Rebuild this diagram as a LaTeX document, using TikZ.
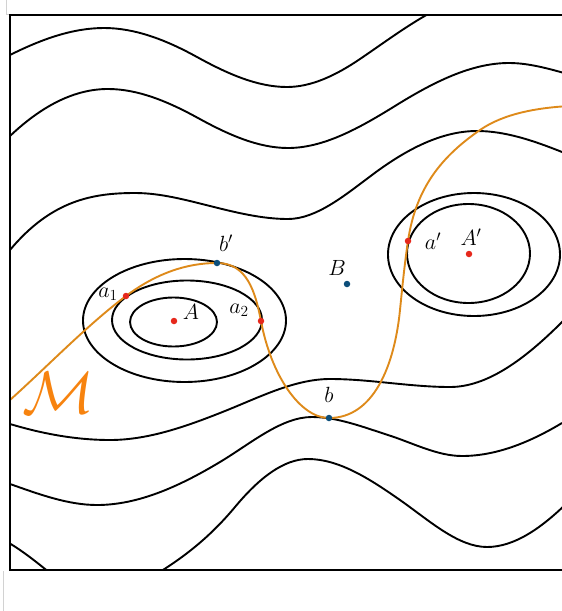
\documentclass[tikz,border=0pt]{standalone}
\usepackage{fix-cm}
\definecolor{mcol}{RGB}{222,138,26}
\definecolor{mlab}{RGB}{247,131,15}
\definecolor{dotred}{RGB}{230,40,28}
\definecolor{dotblue}{RGB}{12,78,122}
\begin{document}
\begin{tikzpicture}[x=1pt,y=-1pt,
  contour/.style={line width=1.9pt, black},
  mcurve/.style={line width=1.9pt, color=mcol},
  reddot/.style={circle, fill=dotred, inner sep=0pt, minimum size=6.5pt},
  bluedot/.style={circle, fill=dotblue, inner sep=0pt, minimum size=6.5pt},
  lbl/.style={inner sep=0pt, font=\fontsize{22}{26}\selectfont}]
\useasboundingbox (0,0) rectangle (562,611);
\draw[gray!35, line width=1pt] (6.5,0) -- (6.5,14) -- (562,14);
\draw[gray!35, line width=1pt] (3,571) -- (3,611);
\begin{scope}
\clip (10,15) rectangle (562,570);
% contour 1
\draw[contour] (10,55) .. controls +(31.3,-15.7) and +(-31.3,0) .. (104,28)
  .. controls +(31,0) and +(-31,-17.1) .. (197,57)
  .. controls +(30,16.5) and +(-30,0) .. (287,87)
  .. controls +(24.3,0) and +(-24.3,16.5) .. (360,59)
  .. controls +(23.3,-15.8) and +(-23.3,12.8) .. (430,13);
% contour 2
\draw[contour] (10,136) .. controls +(32.7,-31) and +(-32.7,0) .. (108,89)
  .. controls +(30,0) and +(-30,-16.5) .. (198,118)
  .. controls +(30,16.5) and +(-30,0) .. (288,148)
  .. controls +(35.7,0) and +(-35.7,22.1) .. (395,106)
  .. controls +(38,-23.6) and +(-38,0) .. (509,63)
  .. controls +(22,0) and +(-22,-6) .. (575,76);
% contour 3 (around both minima)
\draw[contour] (10,250) .. controls +(41.7,-50) and +(-41.7,0) .. (135,193)
  .. controls +(25,0) and +(-25,-6.25) .. (210,206)
  .. controls +(26,6.5) and +(-26,0) .. (288,219)
  .. controls +(28,0) and +(-28,21) .. (372,175)
  .. controls +(35,-26.25) and +(-35,0) .. (477,131)
  .. controls +(28.3,0) and +(-28.3,-11.3) .. (562,152)
  .. controls +(25,10) and +(0,-50) .. (605,250)
  .. controls +(0,40) and +(30,-28) .. (562,322)
  .. controls +(-37.3,37.3) and +(37.3,0) .. (450,387)
  .. controls +(-40,0) and +(40,0) .. (330,379)
  .. controls +(-35,0) and +(35,-14) .. (225,411)
  .. controls +(-38.3,15.3) and +(38.3,0) .. (110,440)
  .. controls +(-33.3,0) and +(33.3,10) .. (10,424);
% contour 4
\draw[contour] (10,484) .. controls +(29,10.2) and +(-29,0) .. (97,505)
  .. controls +(41,0) and +(-41,24.6) .. (220,462)
  .. controls +(30.7,-18.4) and +(-30.7,0) .. (312,417)
  .. controls +(25.3,0) and +(-25.3,-8.1) .. (388,435)
  .. controls +(24.7,7.9) and +(-24.7,0) .. (462,456)
  .. controls +(33.3,0) and +(-33.3,20) .. (562,423);
% contour 5
\draw[contour] (0,538) .. controls +(20,10) and +(-15,-12) .. (55,577);
\draw[contour] (150,578) .. controls +(28.3,-17) and +(-28.3,34) .. (235,507)
  .. controls +(24.3,-29.2) and +(-24.3,0) .. (308,459)
  .. controls +(30.7,0) and +(-30.7,-21.5) .. (400,500)
  .. controls +(29,20.3) and +(-29,0) .. (487,547)
  .. controls +(27.7,0) and +(-27.7,27.7) .. (570,500);
% ellipses around A
\draw[contour] (173.5,322) ellipse [x radius=43.5pt, y radius=24.5pt];
\draw[contour] (187,320) ellipse [x radius=75pt, y radius=39.5pt];
\draw[contour] (184.5,320.5) ellipse [x radius=101.5pt, y radius=61.5pt];
% ellipses around A'
\draw[contour] (468.5,253.5) ellipse [x radius=61.5pt, y radius=49.5pt];
\draw[contour] (474,254.5) ellipse [x radius=86pt, y radius=61.5pt];
% manifold M
\draw[mcurve] (10,400) .. controls +(38.7,-34.8) and +(-38.7,29) .. (126,296)
  .. controls +(30.3,-22.7) and +(-30.3,0) .. (217,263)
  .. controls (247,263) and (255.3,291.6) .. (261,321)
  .. controls (271,375) and (300,418) .. (329,418)
  .. controls (374,418) and (394.5,365) .. (400,310)
  .. controls (402.3,287) and (404.6,263.8) .. (408,241)
  .. controls (416,186.5) and (443,155.6) .. (480,130)
  .. controls (504.6,112.9) and (540,107.5) .. (570,106);
\end{scope}
\draw[line width=1.7pt] (562,15) -- (10,15) -- (10,570) -- (562,570);
% points
\node[reddot] (A) at (174,321) {};
\node[reddot] (a1) at (126,296) {};
\node[reddot] (a2) at (261,321) {};
\node[bluedot] (bp) at (217,263) {};
\node[bluedot] (B) at (347,284) {};
\node[bluedot] (b) at (329,418) {};
\node[reddot] (ap) at (408,241) {};
\node[reddot] (Ap) at (469,254) {};
% labels
\node[lbl] (Alab) at (191,312) {$A$};
\node[lbl] (a1lab) at (108,294) {$a_1$};
\node[lbl] (a2lab) at (239,310) {$a_2$};
\node[lbl] (bplab) at (226,243) {$b'$};
\node[lbl] (Blab) at (337,268) {$B$};
\node[lbl] (blab) at (329,395) {$b$};
\node[lbl] (aplab) at (433,241) {$a'$};
\node[lbl] (Aplab) at (471,237) {$A'$};
\node[inner sep=0pt, text=mlab, font=\fontsize{60}{66}\selectfont] (Mlab) at (59,393) {$\mathcal{M}$};
\end{tikzpicture}
\end{document}
